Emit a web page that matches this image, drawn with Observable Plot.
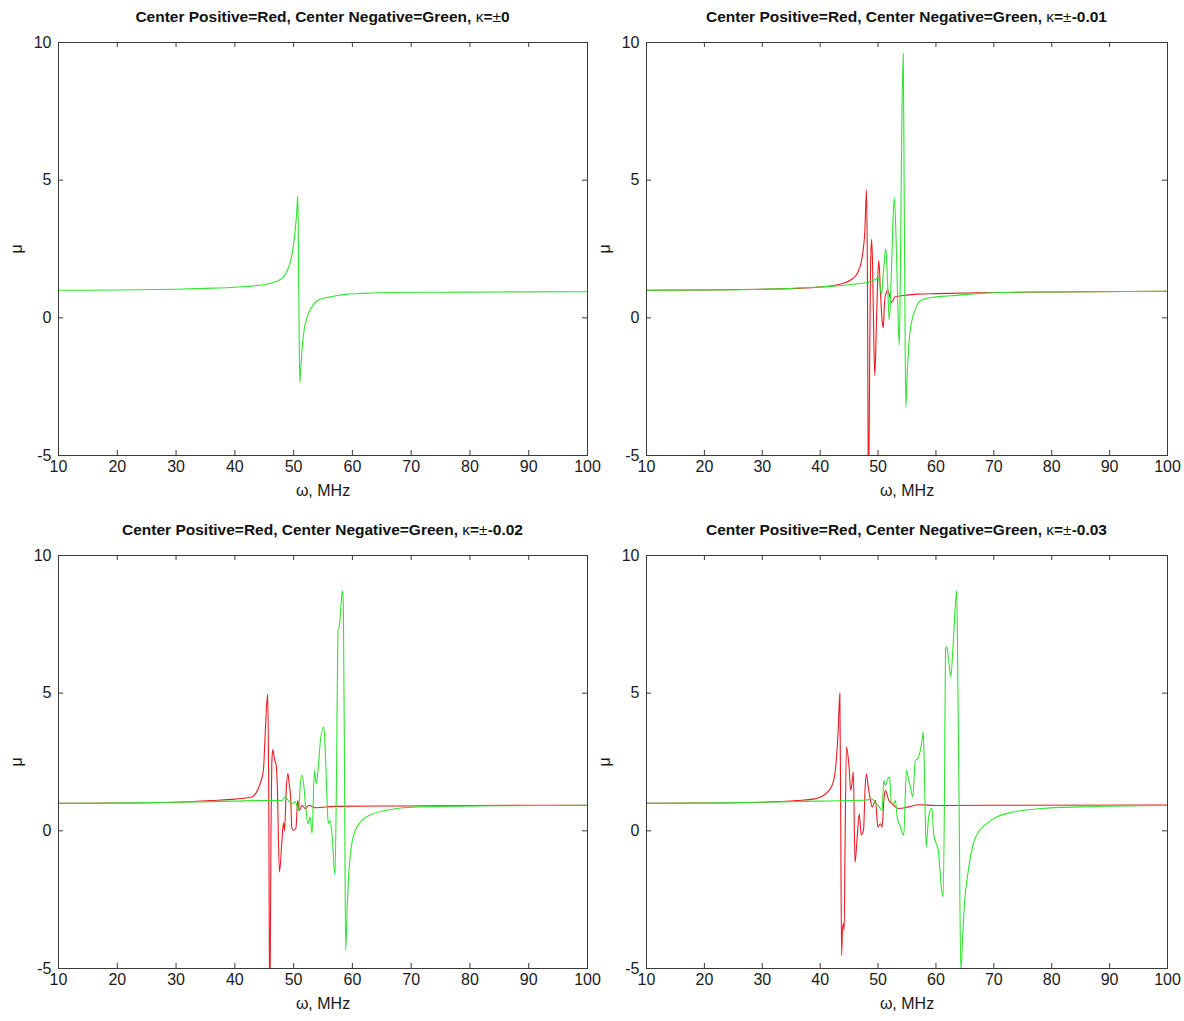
<!DOCTYPE html>
<html><head><meta charset="utf-8">
<script src="https://cdn.jsdelivr.net/npm/d3@7"></script>
<script src="https://cdn.jsdelivr.net/npm/@observablehq/plot@0.6"></script>
<style>
body{margin:0;background:#fff;}
#root{position:relative;width:1184px;height:1021px;background:#fff;overflow:hidden;}
.panel{position:absolute;}
.title{position:absolute;font:bold 15.5px "Liberation Sans",Arial,sans-serif;text-align:center;white-space:nowrap;color:#111;}
.title .n{font-weight:normal;}
</style></head><body><div id="root"></div>
<script>
// ---- data (ω in MHz, μ) ----
const xTicks = [10,20,30,40,50,60,70,80,90,100];
const yTicks = [-5,0,5,10];
const titlePrefix = "Center Positive=Red, Center Negative=Green, ";
const kappaLabels = ["0","-0.01","-0.02","-0.03"];

// κ = ±0 (red identical, hidden beneath green)
const k0Green = [[10,1.00],[20,1.01],[30,1.04],[35,1.07],[39.3,1.10],[42,1.14],[44.9,1.20],[46.5,1.28],[47.8,1.40],[48.5,1.55],[48.9,1.71],[49.5,2.07],[50.0,2.68],[50.3,3.26],[50.55,3.9],[50.7,4.43],[50.8,3.0],[50.9,0.5],[51.05,-2.35],[51.2,-1.9],[51.46,-1.08],[51.85,-0.35],[52.2,-0.05],[52.58,0.19],[53.2,0.42],[54.0,0.62],[55.0,0.71],[56.3,0.76],[57.5,0.81],[59.1,0.86],[62,0.89],[66.5,0.92],[75,0.93],[85,0.94],[100,0.95]];

// κ = ±-0.01
const k1Red = [[10,1.0],[20,1.01],[30,1.04],[36,1.07],[40,1.12],[43,1.2],[45.4,1.39],[46.5,1.65],[47.15,2.09],[47.72,3.16],[48.01,4.64],[48.15,2.0],[48.35,-7],[48.55,-1.5],[48.7,1.8],[48.88,2.84],[49.05,2.0],[49.3,-1.2],[49.45,-2.09],[49.65,-0.8],[49.9,1.2],[50.14,2.09],[50.4,1.0],[50.7,-0.1],[50.9,-0.36],[51.1,0.5],[51.35,0.88],[51.7,1.0],[52.0,0.8],[52.33,0.55],[52.9,0.76],[54,0.8],[56.9,0.86],[60,0.88],[70,0.92],[80,0.94],[100,0.96]];
const k1Green = [[10,1.0],[20,1.01],[30,1.04],[40,1.12],[45,1.2],[48.3,1.3],[49.45,1.38],[50.0,1.46],[50.3,1.2],[50.6,0.85],[50.9,1.6],[51.35,2.51],[51.6,1.5],[51.93,-0.09],[52.2,1.0],[52.5,3.0],[52.8,4.37],[53.1,3.0],[53.4,0.5],[53.66,-1.0],[53.85,1.5],[54.1,7.0],[54.35,9.6],[54.5,5.0],[54.65,0.0],[54.8,-3.24],[55.0,-2.2],[55.5,-0.56],[56.36,0.27],[57.5,0.64],[60,0.76],[62.5,0.8],[66,0.86],[71,0.92],[80,0.94],[100,0.96]];

// κ = ±-0.02
const k2Red = [[10,1.0],[20,1.01],[30,1.04],[36,1.1],[40,1.15],[42.86,1.23],[44.29,1.71],[44.86,2.2],[45.14,3.4],[45.43,4.6],[45.6,4.96],[45.75,2.0],[45.95,-7],[46.15,0.0],[46.29,2.5],[46.46,2.95],[46.74,2.6],[47.03,2.4],[47.2,1.8],[47.6,-1.5],[48.0,-0.4],[48.29,0.3],[48.46,0.0],[48.75,1.5],[49.03,2.08],[49.25,1.7],[49.49,1.2],[49.7,0.1],[50.0,0.02],[50.4,0.1],[50.69,1.1],[50.97,0.75],[51.43,0.93],[52.0,0.8],[52.57,0.93],[53.7,0.84],[57.1,0.89],[65,0.9],[80,0.92],[100,0.93]];
const k2Green = [[10,1.0],[20,1.01],[30,1.04],[40,1.08],[45.14,1.1],[48.0,1.1],[48.57,1.23],[49.1,1.1],[49.71,0.99],[50.3,1.05],[50.86,0.74],[51.14,1.71],[51.43,2.02],[51.71,1.7],[52.0,0.99],[52.46,0.26],[52.8,0.5],[53.14,-0.1],[53.54,2.2],[53.83,1.71],[54.1,2.08],[54.57,3.29],[55.14,3.77],[55.43,2.68],[55.71,1.0],[55.89,0.26],[56.17,0.38],[56.57,-0.22],[57.03,-1.6],[57.31,2.2],[57.54,7.28],[57.77,7.4],[58.0,8.0],[58.29,8.73],[58.46,8.25],[58.69,1.0],[58.86,-4.34],[59.14,-2.65],[59.43,-1.43],[60.0,-0.35],[61.14,0.26],[62.86,0.56],[65.7,0.74],[68.57,0.84],[75,0.89],[85,0.91],[100,0.93]];

// κ = ±-0.03
const k3Red = [[10,1.0],[20,1.01],[30,1.04],[36,1.1],[39.25,1.17],[41.55,1.47],[42.4,1.9],[42.8,2.6],[43.1,3.6],[43.4,5.0],[43.55,0.5],[43.7,-4.52],[43.85,-3.6],[44.0,-3.37],[44.15,-3.6],[44.3,-0.5],[44.55,3.04],[45.0,2.3],[45.27,1.47],[45.56,1.83],[45.73,2.14],[46.02,-1.15],[46.4,-0.2],[46.75,0.62],[47.1,-0.15],[47.5,0.05],[47.75,1.5],[48.0,2.06],[48.3,1.6],[48.59,1.23],[48.99,0.87],[49.28,0.99],[49.56,1.11],[49.97,0.14],[50.41,0.26],[50.7,0.14],[51.0,1.1],[51.27,1.47],[51.86,1.11],[52.42,0.99],[52.99,0.87],[53.57,0.81],[55.3,0.87],[57.0,0.95],[60,0.92],[70,0.93],[100,0.94]];
const k3Green = [[10,1.0],[20,1.01],[30,1.04],[40,1.08],[45,1.1],[48,1.12],[49.0,1.15],[49.6,1.0],[50.1,0.9],[50.7,0.74],[51.0,1.83],[51.3,1.65],[51.6,1.85],[51.98,1.95],[52.32,0.99],[52.7,1.0],[53.0,1.1],[53.3,0.5],[53.87,0.14],[54.44,-0.16],[54.9,2.2],[55.2,1.95],[55.59,1.59],[56.0,1.23],[56.45,2.56],[56.9,2.62],[57.3,2.92],[57.6,3.29],[57.8,3.59],[58.0,2.2],[58.3,-0.59],[58.74,0.5],[59.3,0.82],[59.6,-0.1],[59.86,-0.35],[60.4,-0.71],[61.0,-2.16],[61.25,-2.4],[61.5,2.0],[61.65,6.56],[61.87,6.68],[62.25,6.07],[62.56,5.59],[62.9,6.5],[63.3,8.0],[63.59,8.74],[63.8,5.0],[64.0,1.0],[64.3,-5.1],[64.6,-3.9],[64.93,-2.65],[65.6,-1.43],[66.46,-0.46],[67.5,0.0],[69.0,0.3],[70.46,0.5],[73.6,0.69],[78.2,0.81],[85,0.87],[100,0.92]];

const redSeries = [null, k1Red, k2Red, k3Red];
const greenSeries = [k0Green, k1Green, k2Green, k3Green];

// ---- layout ----
const RED = "#ec1c24", GREEN = "#2ee62e", AXIS = "#3a3a3a";
const layouts = [
  {left:0,   top:30,  width:590, ml:58, mr:3},
  {left:590, top:30,  width:594, ml:56, mr:17},
  {left:0,   top:543, width:590, ml:58, mr:3},
  {left:590, top:543, width:594, ml:56, mr:17}
];
const PLOT_H = 413, MT = 12, MB = 60;
const root = document.getElementById("root");

layouts.forEach((L, i) => {
  const plotW = L.width - L.ml - L.mr;
  const toPts = arr => arr.map(([x, y]) => ({x, y}));
  const marks = [
    Plot.tickX(xTicks, {x: d => d, insetTop: PLOT_H - 5, stroke: AXIS}),
    Plot.tickX(xTicks, {x: d => d, insetBottom: PLOT_H - 5, stroke: AXIS}),
    Plot.tickY(yTicks, {y: d => d, insetRight: plotW - 5, stroke: AXIS}),
    Plot.tickY(yTicks, {y: d => d, insetLeft: plotW - 5, stroke: AXIS}),
    Plot.axisX(xTicks, {anchor: "bottom", tickSize: 0, tickPadding: 5, fontSize: 16,
      tickFormat: d => String(d),
      label: "ω, MHz", labelAnchor: "center", labelOffset: 40, labelArrow: "none"}),
    Plot.axisY(yTicks, {anchor: "left", tickSize: 0, tickPadding: 7, fontSize: 16,
      tickFormat: d => String(d),
      label: "μ", labelAnchor: "center", labelOffset: 48, labelArrow: "none"})
  ];
  if (redSeries[i]) marks.push(Plot.line(toPts(redSeries[i]), {x: "x", y: "y", stroke: RED, strokeWidth: 1.1, curve: "monotone-x", clip: true}));
  marks.push(Plot.line(toPts(greenSeries[i]), {x: "x", y: "y", stroke: GREEN, strokeWidth: 1.1, curve: "monotone-x", clip: true}));
  marks.push(Plot.frame({stroke: AXIS}));

  const chart = Plot.plot({
    width: L.width, height: MT + PLOT_H + MB,
    marginLeft: L.ml, marginRight: L.mr, marginTop: MT, marginBottom: MB,
    style: {fontFamily: "'Liberation Sans', Arial, sans-serif", fontSize: "17px", color: "#1a1a1a", background: "transparent", overflow: "visible"},
    x: {domain: [10, 100]},
    y: {domain: [-5, 10]},
    marks
  });
  const wrap = document.createElement("div");
  wrap.className = "panel";
  wrap.style.left = L.left + "px";
  wrap.style.top = L.top + "px";
  wrap.appendChild(chart);
  root.appendChild(wrap);

  const t = document.createElement("div");
  t.className = "title";
  const cx = L.left + L.ml + plotW / 2;
  t.style.left = (cx - 300) + "px";
  t.style.width = "600px";
  t.style.top = (L.top - 22) + "px";
  t.innerHTML = titlePrefix + '<span class="n">κ</span>=<span class="n">±</span>' + kappaLabels[i];
  root.appendChild(t);
});
</script>
</body></html>
